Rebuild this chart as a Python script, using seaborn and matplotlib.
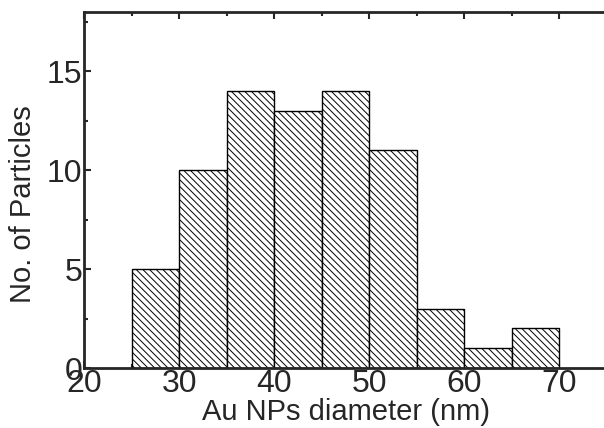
import matplotlib
matplotlib.use("Agg")
import matplotlib.pyplot as plt
import seaborn as sns
import numpy as np
from matplotlib.ticker import MultipleLocator

bin_centers = [27.5, 32.5, 37.5, 42.5, 47.5, 52.5, 57.5, 62.5, 67.5]
counts = [5, 10, 14, 13, 14, 11, 3, 1, 2]
bin_edges = [25, 30, 35, 40, 45, 50, 55, 60, 65, 70]

sns.set_style("ticks")
plt.rcParams['font.family'] = ['Liberation Sans', 'DejaVu Sans']
plt.rcParams['hatch.linewidth'] = 0.7

fig = plt.figure(figsize=(6.04, 4.28), dpi=100)
ax = fig.add_axes([84/604, 60/428, 1 - 84/604, (368-12)/428])

sns.histplot(x=bin_centers, weights=counts, bins=bin_edges, ax=ax,
             stat="count", element="bars", fill=True,
             color="white", edgecolor="black", linewidth=1.0, alpha=1)
for p in ax.patches:
    p.set_facecolor("white")
    p.set_edgecolor("black")
    p.set_hatch("\\" * 5)

ax.set_xlim(20, 74.7)
ax.set_ylim(0, 18)
ax.xaxis.set_major_locator(MultipleLocator(10))
ax.xaxis.set_minor_locator(MultipleLocator(5))
ax.yaxis.set_major_locator(MultipleLocator(5))
ax.yaxis.set_minor_locator(MultipleLocator(2.5))
ax.tick_params(which="both", direction="in", top=True, right=False,
               width=1.5, labelsize=23, pad=1)
ax.tick_params(which="major", length=5)
ax.tick_params(which="minor", length=3)
ax.spines["right"].set_visible(False)
for s in ["left", "top", "bottom"]:
    ax.spines[s].set_linewidth(2)

ax.set_xlabel("Au NPs diameter (nm)", fontsize=21)
ax.set_ylabel("No. of Particles", fontsize=21)
ax.xaxis.set_label_coords(0.504, -0.125)
ax.xaxis.label.set_verticalalignment("center")
ax.yaxis.set_label_coords(-0.118, 0.46)
ax.yaxis.label.set_verticalalignment("center")

fig.savefig("out.png", dpi=100)
